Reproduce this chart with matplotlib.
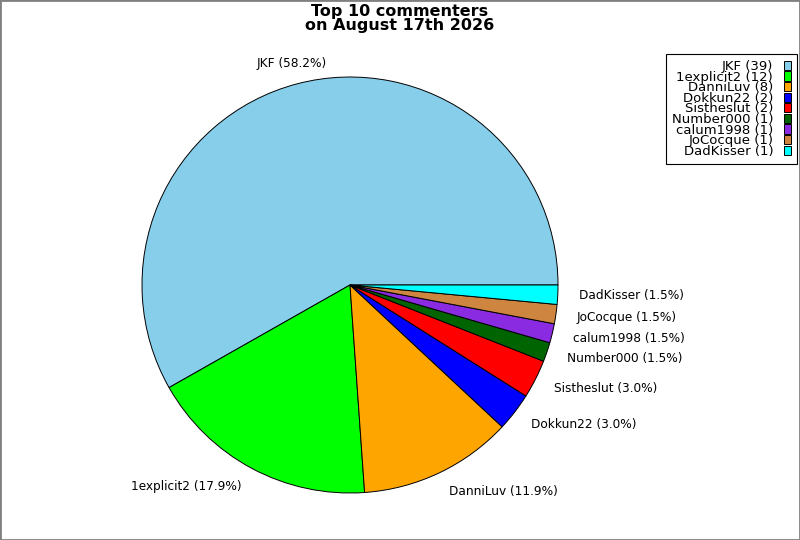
import matplotlib
matplotlib.use('Agg')
import matplotlib.pyplot as plt
from matplotlib.patches import Rectangle

# commenters and their comment counts
names = ['JKF', '1explicit2', 'DanniLuv', 'Dokkun22', 'Sistheslut',
         'Number000', 'calum1998', 'JoCocque', 'DadKisser']
counts = [39, 12, 8, 2, 2, 1, 1, 1, 1]
colors = ['skyblue', 'lime', 'orange', 'blue', 'red',
          'darkgreen', 'blueviolet', 'peru', 'cyan']
title = 'Top 10 commenters\non August 17th 2026'

total = sum(counts)
pie_labels = [f'{n} ({100 * c / total:.1f}%)' for n, c in zip(names, counts)]
legend_labels = [f'{n} ({c})' for n, c in zip(names, counts)]

fig = plt.figure(figsize=(8, 5.4), dpi=100)
ax = fig.add_axes([142 / 800, 47 / 540, 416 / 800, 416 / 540])

wedges, texts = ax.pie(counts, labels=pie_labels, colors=colors, startangle=0,
                       counterclock=True, labeldistance=1.1,
                       wedgeprops={'edgecolor': 'black', 'linewidth': 0.7},
                       textprops={'fontsize': 8.7})
texts[0].set_horizontalalignment('center')
ax.set_xlim(-1, 1)
ax.set_ylim(-1, 1)
ax.set_aspect('equal')

fig.suptitle(title, fontsize=11.5, fontweight='bold', y=0.993, linespacing=0.92)

leg = fig.legend(wedges, legend_labels, loc='upper right',
                 bbox_to_anchor=(797 / 800, 1 - 54 / 540), markerfirst=False,
                 fontsize=9.5, handlelength=0.55, handleheight=0.7, handletextpad=0.8,
                 labelspacing=-0.18, borderpad=0.45, fancybox=False, framealpha=1,
                 edgecolor='black', borderaxespad=0)
leg.get_frame().set_linewidth(0.8)
for t in leg.get_texts():
    t.set_horizontalalignment('right')
leg._legend_box.align = 'right'

fig.patches.append(Rectangle((0, 0), 1, 1, transform=fig.transFigure, fill=False,
                             edgecolor='gray', linewidth=2))

fig.savefig('out.png', dpi=100)
